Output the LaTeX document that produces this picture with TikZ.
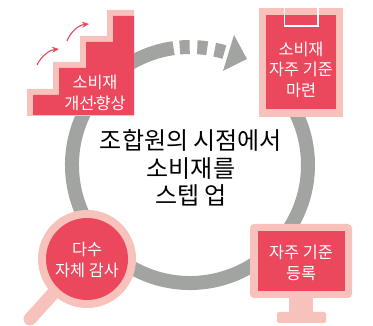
\documentclass[tikz,border=0pt]{standalone}
\usepackage{fontspec}
\setmainfont{Noto Sans CJK KR}
\usetikzlibrary{arrows.meta}
\definecolor{ringgray}{RGB}{162,164,162}
\definecolor{iconred}{RGB}{235,71,93}
\definecolor{iconpink}{RGB}{247,193,188}
\tikzset{
  >={Stealth[length=7pt, width=6pt]},
  x=1pt, y=1pt,
  % Gray ring
  ring/.style={draw=ringgray, line width=14pt},
  % Icon parts
  pinkpart/.style={fill=iconpink, draw=none},
  redpart/.style={fill=iconred, draw=none},
  % Labels
  whitelabel/.style={text=white, font=\fontsize{16.3}{20.5}\selectfont, align=center, inner sep=0pt},
  centerlabel/.style={text=black, font=\fontsize{24}{27.5}\selectfont, align=center, inner sep=0pt},
  steparrow/.style={->, draw=iconred, line width=1.1pt},
}

\begin{document}
\begin{tikzpicture}
  \useasboundingbox (0,0) rectangle (373,-326);

  % Ring and its dashed end
  \draw[ring] (190,-165) ++(98:118) arc (98:390:118);
  \draw[ring, dash pattern=on 10pt off 7.6pt] (190,-165) ++(95:118) arc (95:72:118);
  \fill[ringgray] (234,-35) -- (247,-59) -- (223,-71) -- cycle;

  % Stairs
  \fill[pinkpart] (27,-116) |- (53,-89) |- (80,-62) |- (107,-36) |- (134,-10) |- cycle;
  \fill[redpart] (33,-115) |- (59,-95) |- (86,-68) |- (113,-42) |- (134,-16) |- cycle;
  \draw[steparrow] (37,-65) .. controls (42,-55) and (50,-50) .. (59,-49);
  \draw[steparrow] (67,-41) .. controls (71,-31) and (79,-25) .. (89,-24);
  \node[whitelabel] (stairs) at (95,-93) {소비재\\개선\kern-4pt·\kern-4pt향상};

  % Clipboard
  \fill[pinkpart] (259,-8) rectangle (343,-117);
  \fill[redpart] (266,-15) rectangle (336,-109);
  \draw[white, line width=1.4pt] (284.5,-8) -- (284.5,-26) -- (318,-26) -- (318,-8);
  \node[whitelabel] (clipboard) at (301,-69.5) {소비재\\자주 기준\\마련};

  % Monitor
  \fill[pinkpart] (289,-296) rectangle (313,-314);
  \fill[pinkpart, rounded corners=2pt] (277,-312) rectangle (326,-323);
  \fill[pinkpart, rounded corners=4pt] (250,-224) rectangle (352,-298);
  \fill[redpart] (258,-231) rectangle (345,-291);
  \node[whitelabel] (monitor) at (301,-263) {자주 기준\\등록};

  % Magnifier
  \draw[iconpink, line width=13pt, line cap=round] (58,-288) -- (30,-319);
  \fill[pinkpart] (87,-259) circle (49);
  \fill[redpart] (87,-259) circle (41);
  \node[whitelabel] (magnifier) at (87,-260) {다수\\자체 감사};

  \node[centerlabel] (title) at (191,-168) {조합원의 시점에서\\소비재를\\스텝 업};
\end{tikzpicture}
\end{document}
